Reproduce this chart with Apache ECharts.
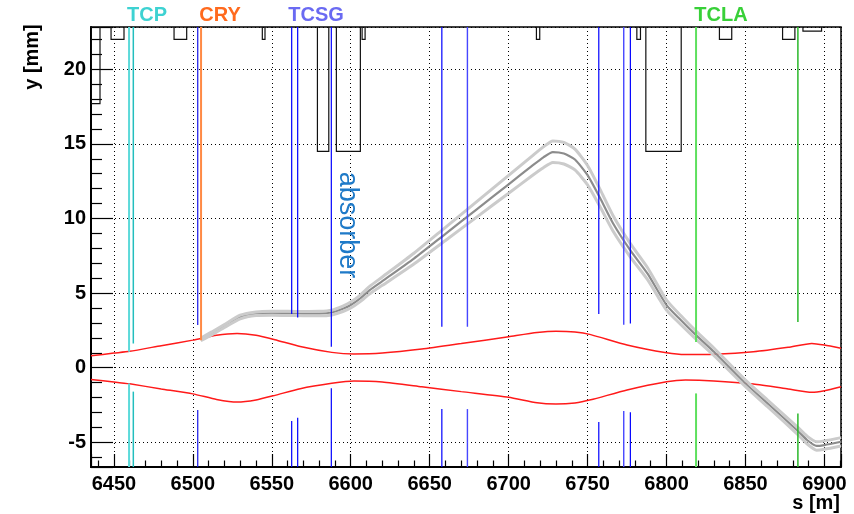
<!DOCTYPE html>
<html><head><meta charset="utf-8">
<script src="https://cdn.jsdelivr.net/npm/echarts@6/dist/echarts.min.js"></script>
<style>html,body{margin:0;padding:0;background:#fff}#c{width:854px;height:514px}</style>
</head><body><div id="c"></div><script>
// ---- axis ranges ----
const sMin = 6435.5, sMax = 6910.5;
const yMin = -6.65, yMax = 22.83;

// ---- beam envelope (red) ----
const envS = [6435.5, 6450, 6460, 6480, 6500, 6515, 6528, 6540, 6552, 6568, 6588, 6602, 6620, 6645, 6670, 6700, 6718, 6730, 6742, 6752, 6775, 6800, 6812, 6830, 6855, 6877, 6892, 6900, 6910.5];
const envUpper = [0.8, 0.98, 1.1, 1.48, 1.85, 2.18, 2.3, 2.18, 1.88, 1.42, 1.03, 0.92, 0.98, 1.25, 1.62, 2.08, 2.36, 2.45, 2.4, 2.22, 1.52, 1.0, 0.88, 0.9, 1.07, 1.37, 1.63, 1.52, 1.3];
const envLower = [-0.78, -0.95, -1.08, -1.42, -1.75, -2.12, -2.3, -2.16, -1.85, -1.4, -1.04, -0.88, -0.95, -1.27, -1.6, -1.98, -2.35, -2.43, -2.36, -2.15, -1.49, -0.94, -0.82, -0.88, -1.09, -1.42, -1.65, -1.54, -1.27];

// ---- channeled beam from the crystal (grey) ----
const chS = [6505, 6512, 6520, 6530, 6540, 6550, 6560, 6570, 6580, 6588, 6595, 6600, 6606, 6612, 6620, 6640, 6660, 6680, 6700, 6715, 6722, 6728, 6735, 6742, 6750, 6758, 6766, 6777, 6788, 6800, 6809, 6819, 6830, 6850, 6864, 6883, 6889, 6895, 6900, 6910.5];
const chMid = [1.9, 2.3, 2.8, 3.4, 3.62, 3.65, 3.64, 3.63, 3.63, 3.7, 3.95, 4.2, 4.65, 5.2, 5.8, 7.31, 8.97, 10.63, 12.29, 13.54, 14.1, 14.45, 14.35, 13.95, 12.9, 11.35, 9.7, 7.88, 6.3, 4.2, 3.2, 2.15, 1.07, -1.05, -2.39, -4.22, -4.84, -5.24, -5.18, -4.96];
const chHigh = [1.98, 2.4, 2.9, 3.52, 3.74, 3.78, 3.78, 3.77, 3.78, 3.86, 4.13, 4.4, 4.87, 5.45, 6.08, 7.67, 9.41, 11.15, 12.89, 14.2, 14.8, 15.2, 15.1, 14.65, 13.55, 11.93, 10.22, 8.33, 6.7, 4.54, 3.5, 2.42, 1.32, -0.83, -2.17, -3.98, -4.58, -4.96, -4.9, -4.68];
const chLow = [1.82, 2.2, 2.7, 3.28, 3.5, 3.52, 3.5, 3.49, 3.48, 3.54, 3.77, 4.0, 4.43, 4.95, 5.52, 6.95, 8.53, 10.11, 11.69, 12.88, 13.4, 13.75, 13.65, 13.25, 12.25, 10.77, 9.18, 7.43, 5.9, 3.86, 2.9, 1.88, 0.82, -1.27, -2.61, -4.46, -5.1, -5.52, -5.46, -5.24];

// ---- collimator jaws ----
const collName = ['TCP', 'TCP', 'TCSG', 'CRY', 'TCSG', 'TCSG', 'TCSG', 'TCSG', 'TCSG', 'TCSG', 'TCSG', 'TCSG', 'TCLA', 'TCLA'];
const collS = [6459.6, 6462.3, 6503.1, 6505.2, 6562.6, 6566.4, 6587.7, 6657.7, 6673.9, 6757.1, 6772.9, 6777.1, 6818.7, 6883.2];
const collUp = [1.07, 1.63, 2.86, 1.85, 3.6, 3.37, 1.41, 2.75, 2.75, 3.6, 2.88, 2.97, 1.72, 3.06];
const collLow = [-1.05, -1.6, -2.83, null, -3.57, -3.35, -1.38, -2.77, -2.77, -3.64, -2.9, -2.99, -1.72, -3.06];

// ---- aperture (black outlines from the top) ----
const apS1 = [6435.5, 6448.2, 6488.1, 6544.0, 6578.9, 6590.9, 6607.2, 6717.6, 6781.2, 6786.9, 6833.5, 6873.5, 6886.4];
const apS2 = [6441.2, 6456.4, 6496.1, 6545.7, 6586.1, 6606.1, 6609.1, 6719.7, 6783.5, 6809.3, 6841.3, 6881.3, 6898.2];
const apY  = [17.7, 22.0, 22.0, 22.0, 14.5, 14.5, 22.0, 22.0, 22.0, 14.5, 22.0, 22.0, 22.55];

// ---- labels ----
const topLabels = ['TCP', 'CRY', 'TCSG', 'TCLA'];
const xTitle = 's [m]', yTitle = 'y [mm]', absorberText = 'absorber';

// ---- styles (kept separate) ----
const collStyle = [
  {c: '#5cdada', w: 2}, {c: '#22bebe', w: 1.5}, {c: '#1414e6', w: 1.2}, {c: '#ff8a45', w: 2},
  {c: '#0000ff', w: 1.2}, {c: '#0000ff', w: 1.2}, {c: '#0000ff', w: 1.2}, {c: '#0000ff', w: 1.2},
  {c: '#4646ff', w: 1.4}, {c: '#0000ff', w: 1.2}, {c: '#4646ff', w: 1.4}, {c: '#0000ff', w: 1.2},
  {c: '#5ee05e', w: 2}, {c: '#2ab82a', w: 1.5}
];
const labelColor = {TCP: '#3ed2d2', CRY: '#ff6a1e', TCSG: '#6a6af2', TCLA: '#38d038'};
const labelX = {TCP: 147, CRY: 220, TCSG: 316, TCLA: 721};
const FONT = '"Liberation Sans", Arial, Helvetica, sans-serif';

const zip = (a, b) => a.map((v, i) => [v, b[i]]);
const SM = 0.2;

const chart = echarts.init(document.getElementById('c'), null, {renderer: 'canvas'});
chart.setOption({
  animation: false,
  backgroundColor: '#fff',
  grid: {left: 91, right: 13, top: 27, bottom: 47, containLabel: false, outerBoundsMode: 'none',
         show: true, borderColor: '#000', borderWidth: 1.5, backgroundColor: 'transparent'},
  xAxis: {
    type: 'value', min: sMin, max: sMax, splitNumber: 9,
    axisLine: {show: true, onZero: false, lineStyle: {color: '#000', width: 2}},
    axisTick: {show: true, inside: true, length: 13, lineStyle: {color: '#000', width: 1.2}},
    minorTick: {show: true, splitNumber: 5, length: 6.5, lineStyle: {color: '#000', width: 1.2}},
    splitLine: {show: true, lineStyle: {color: '#000', width: 1, type: [1, 3]}},
    axisLabel: {color: '#000', fontFamily: FONT, fontWeight: 'bold', fontSize: 20, margin: 7,
                formatter: v => (Math.abs(v % 50) < 1e-6 ? String(v) : '')}
  },
  yAxis: {
    type: 'value', min: yMin, max: yMax, splitNumber: 6,
    axisLine: {show: true, onZero: false, lineStyle: {color: '#000', width: 2}},
    axisTick: {show: true, inside: true, length: 22, lineStyle: {color: '#000', width: 1.2}},
    minorTick: {show: true, splitNumber: 5, length: 11, lineStyle: {color: '#000', width: 1.2}},
    splitLine: {show: true, lineStyle: {color: '#000', width: 1, type: [1, 3]}},
    axisLabel: {color: '#000', fontFamily: FONT, fontWeight: 'bold', fontSize: 20, margin: 5,
                formatter: v => (Math.abs(v % 5) < 1e-6 ? String(v) : '')}
  },
  series: [
    {type: 'line', name: 'envUp', data: zip(envS, envUpper), showSymbol: false, smooth: SM,
     lineStyle: {color: '#ff1a1a', width: 1.5}, z: 2},
    {type: 'line', name: 'envLow', data: zip(envS, envLower), showSymbol: false, smooth: SM,
     lineStyle: {color: '#ff1a1a', width: 1.5}, z: 2},
    {type: 'line', name: 'chMid', data: zip(chS, chMid), showSymbol: false, smooth: SM,
     lineStyle: {color: '#8c8c8c', width: 2.2}, z: 3},
    {type: 'line', name: 'chHigh', data: zip(chS, chHigh), showSymbol: false, smooth: SM,
     lineStyle: {color: '#cbcbcb', width: 3}, z: 4},
    {type: 'line', name: 'chLow', data: zip(chS, chLow), showSymbol: false, smooth: SM,
     lineStyle: {color: '#cbcbcb', width: 3}, z: 4},
    {type: 'custom', name: 'collimators', z: 6, clip: true,
     data: collS.map((s, i) => [s, collUp[i], collLow[i] == null ? NaN : collLow[i]]),
     renderItem: (params, api) => {
       const i = params.dataIndex, st = collStyle[i];
       const s = api.value(0), up = api.value(1), lo = api.value(2);
       const a = api.coord([s, yMax]), b = api.coord([s, up]);
       const ch = [{type: 'line', shape: {x1: a[0], y1: a[1], x2: b[0], y2: b[1]}, style: {stroke: st.c, lineWidth: st.w}}];
       if (!isNaN(lo)) {
         const c = api.coord([s, yMin]), d = api.coord([s, lo]);
         ch.push({type: 'line', shape: {x1: c[0], y1: c[1], x2: d[0], y2: d[1]}, style: {stroke: st.c, lineWidth: st.w}});
       }
       return {type: 'group', children: ch};
     }},
    {type: 'custom', name: 'aperture', z: 7, clip: true,
     data: apS1.map((s, i) => [s, apS2[i], apY[i]]),
     renderItem: (params, api) => {
       const s1 = api.value(0), s2 = api.value(1), y = api.value(2);
       const pts = [api.coord([s1, yMax]), api.coord([s1, y]), api.coord([s2, y]), api.coord([s2, yMax])];
       return {type: 'polyline', shape: {points: pts}, style: {stroke: '#111', lineWidth: 1.2, fill: null}};
     }}
  ],
  graphic: [
    ...topLabels.map(t => ({type: 'text', x: labelX[t], y: 15.5,
      style: {text: t, fill: labelColor[t], font: 'bold 20px ' + FONT, textAlign: 'center', textVerticalAlign: 'middle'}})),
    {type: 'text', x: 840, y: 503, style: {text: xTitle, fill: '#000', font: 'bold 20px ' + FONT, textAlign: 'right', textVerticalAlign: 'middle'}},
    {type: 'text', x: 32, y: 57, rotation: Math.PI / 2,
     style: {text: yTitle, fill: '#000', font: 'bold 20px ' + FONT, textAlign: 'center', textVerticalAlign: 'middle'}},
    {type: 'text', x: 347, y: 225, rotation: -Math.PI / 2, z: 10,
     style: {text: absorberText, fill: '#1f7ac8', font: '27px ' + FONT, textAlign: 'center', textVerticalAlign: 'middle'}}
  ]
});
</script></body></html>
